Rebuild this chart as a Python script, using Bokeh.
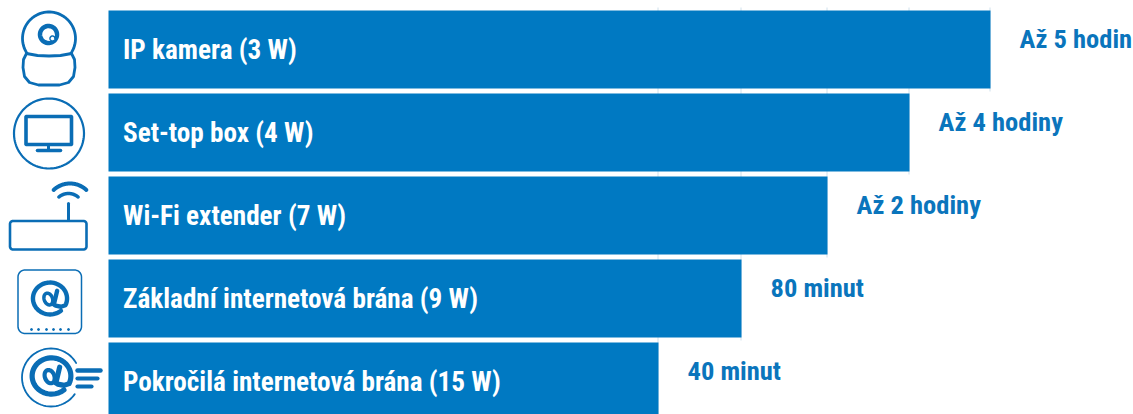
import numpy as np
from bokeh.plotting import figure
from bokeh.models import Range1d
from bokeh.core.properties import value
from bokeh.embed import file_html
from bokeh.resources import INLINE

labels = ["IP kamera (3 W)", "Set-top box (4 W)", "Wi-Fi extender (7 W)",
          "Základní internetová brána (9 W)", "Pokročilá internetová brána (15 W)"]
durations = ["Až 5 hodin", "Až 4 hodiny", "Až 2 hodiny", "80 minut", "40 minut"]
lengths = [882, 801, 719, 633, 550]
label_gap = 29

BAR = "#0079C2"
ICON = "#0A6DB5"
TXT = "#0A75BC"
GRID = "#CFE0EC"
FONT = value("Roboto Condensed")

W, H = 1133, 414
p = figure(width=W, height=H, output_backend="svg", toolbar_location=None,
           x_range=Range1d(-108, -108 + W), y_range=Range1d(H, 0),
           min_border=0, outline_line_color=None, x_axis_location=None, y_axis_location=None)
p.grid.visible = False

pitch = 83
tops = [10 + i * pitch for i in range(5)]
heights = [78, 78, 78, 78, 72]

for i in range(5):
    p.segment(lengths[i] - 0.5, 7, lengths[i] - 0.5, tops[i] + heights[i] + 3, line_color=GRID, line_width=1)

for i in range(5):
    p.quad(left=0, right=lengths[i], top=tops[i], bottom=tops[i] + heights[i], fill_color=BAR, line_color=None)
    p.text(14.5, tops[i] + 39.5, text=[labels[i]], text_color="white", text_font=FONT, text_font_style="bold",
           text_font_size="27.2px", text_baseline="alphabetic", text_align="left")
    p.text(lengths[i] + label_gap, tops[i] + 28, text=[durations[i]], text_color=TXT, text_font=FONT,
           text_font_style="bold", text_font_size="26.5px", text_baseline="alphabetic", text_align="left")

def X(v):
    return np.asarray(v, dtype=float) - 108

def arc(cx, cy, rx, ry, a0, a1, n=60):
    t = np.radians(np.linspace(a0, a1, n))
    return cx + rx * np.cos(t), cy + ry * np.sin(t)

def rrect(x0, y0, x1, y1, r):
    xs, ys = [], []
    for cx, cy, a0 in [(x1 - r, y0 + r, -90), (x1 - r, y1 - r, 0), (x0 + r, y1 - r, 90), (x0 + r, y0 + r, 180)]:
        a, b = arc(cx, cy, r, r, a0, a0 + 90, 10)
        xs += list(a); ys += list(b)
    return xs + xs[:1], ys + ys[:1]

def stroke(x, y, w):
    p.line(X(x), y, line_color=ICON, line_width=w, line_cap="round", line_join="round")

def at_sign(cx, cy, s, w):
    # outer spiral from the lower right, round the left, to the hook at the stem
    ox, oy = arc(0, 0, 15.5, 14.5, 50, 385)
    ox = np.concatenate([ox, [10, 5]])
    oy = np.concatenate([oy, [7.5, 6.5]])
    stroke(cx + s * ox, cy + s * oy, w)
    # stem of the a
    stroke(cx + s * np.array([6.5, 3.5]), cy + s * np.array([-7, 5.5]), w)
    # bowl of the a
    t = np.radians(np.linspace(0, 360, 40))
    a, b = 3.8 * np.cos(t), 5.5 * np.sin(t)
    k = np.radians(20)
    stroke(cx + s * (-1.5 + a * np.cos(k) + b * np.sin(k)), cy + s * (0.5 - a * np.sin(k) + b * np.cos(k)), w * 0.8)

# camera
hx, hy = arc(48.5, 38, 26.5, 26.5, 146, 394)
stroke(hx, hy, 2.8)
bx = [71, 60, 48.5, 37, 26, 23, 22.5, 24, 29, 38, 59, 68, 73, 74.5, 74, 71]
by = [53, 55, 55.5, 55, 53, 59, 67, 76, 82, 84.5, 84.5, 82, 76, 67, 59, 53]
stroke(bx, by, 2.8)
cx, cy = arc(48, 34, 8.5, 8.5, 0, 360)
stroke(cx, cy, 4.5)
lx, ly = arc(50, 36, 4.5, 4.5, 0, 360)
p.patch(X(lx), ly, fill_color="white", line_color=None)
lx, ly = arc(52, 38, 2.5, 2.5, 0, 360)
p.patch(X(lx), ly, fill_color="white", line_color=ICON, line_width=1.5)

# set-top box
cx, cy = arc(48.5, 133, 35, 35, 0, 360, 120)
stroke(cx, cy, 2.2)
rx, ry = rrect(25.5, 116, 71, 144, 0.5)
stroke(rx, ry, 3.6)
stroke([48, 48], [145, 150], 3)
stroke([37, 60], [150, 150], 3.6)

# wifi extender
rx, ry = rrect(9.5, 220.5, 86, 249, 3)
stroke(rx, ry, 2.6)
stroke([68, 68], [203, 220], 3)
ax, ay = arc(69.5, 207, 24, 24, -133, -47)
stroke(ax, ay, 4)
ax, ay = arc(68, 208, 15, 15, -130, -50)
stroke(ax, ay, 3.5)

# basic gateway
rx, ry = rrect(17.5, 269.5, 81, 333, 7)
stroke(rx, ry, 1.5)
p.scatter(X([31, 38, 46, 53, 60, 68]), [329] * 6, size=2, color=ICON, marker="circle")
at_sign(49.5, 298, 1.1, 4.4)

# advanced gateway
ax, ay = arc(50.5, 377, 29, 29, 35, 330)
stroke(ax, ay, 1.8)
at_sign(51, 375.5, 1.25, 5.2)
for x1, y1, x0, w in [(100, 370, 77, 4.5), (97, 378, 77, 4.2), (91, 386, 77, 4.2)]:
    stroke([x0, x1], [y1, y1], w)

open("out.html", "w").write(file_html(p, INLINE))
